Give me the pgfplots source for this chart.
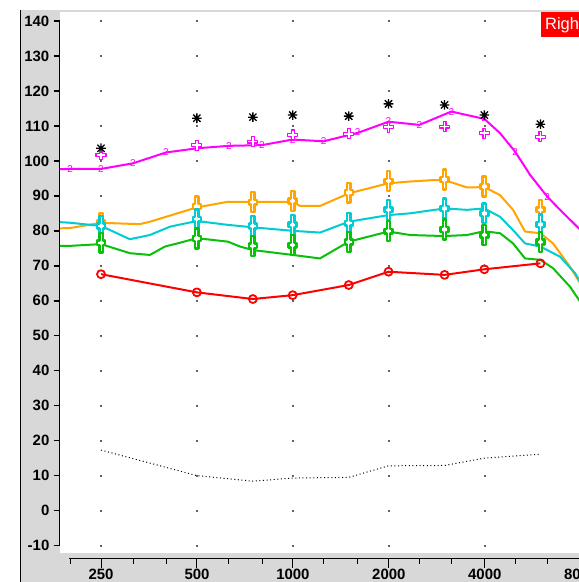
\documentclass[border=0pt]{standalone}
\usepackage{fontspec}
\setmainfont{Liberation Sans}
\usepackage{pgfplots}
\pgfplotsset{compat=1.18}
\definecolor{corange}{RGB}{255,165,0}
\definecolor{ccyan}{RGB}{0,204,210}
\definecolor{cgreen}{RGB}{10,192,10}
\definecolor{cmag}{RGB}{255,0,255}
\definecolor{cred}{RGB}{255,0,0}
\definecolor{panel}{RGB}{216,216,216}
\newcommand\plusshape[4]{% half-width arm, half-length vertical, half-length horizontal, half-height crossbar
  \pgfpathmoveto{\pgfqpoint{-#1}{#2}}%
  \pgfpathlineto{\pgfqpoint{#1}{#2}}%
  \pgfpathlineto{\pgfqpoint{#1}{#4}}%
  \pgfpathlineto{\pgfqpoint{#3}{#4}}%
  \pgfpathlineto{\pgfqpoint{#3}{-#4}}%
  \pgfpathlineto{\pgfqpoint{#1}{-#4}}%
  \pgfpathlineto{\pgfqpoint{#1}{-#2}}%
  \pgfpathlineto{\pgfqpoint{-#1}{-#2}}%
  \pgfpathlineto{\pgfqpoint{-#1}{-#4}}%
  \pgfpathlineto{\pgfqpoint{-#3}{-#4}}%
  \pgfpathlineto{\pgfqpoint{-#3}{#4}}%
  \pgfpathlineto{\pgfqpoint{-#1}{#4}}%
  \pgfpathclose}
\pgfdeclareplotmark{tplus}{\plusshape{1.7bp}{9.9bp}{4bp}{2.4bp}\pgfusepathqfillstroke}
\pgfdeclareplotmark{oplus}{\plusshape{1.4bp}{5bp}{5bp}{1.4bp}\pgfusepathqfillstroke}
\pgfdeclareplotmark{star8}{%
  \pgfpathmoveto{\pgfqpoint{0bp}{-4.8bp}}\pgfpathlineto{\pgfqpoint{0bp}{4.8bp}}%
  \pgfpathmoveto{\pgfqpoint{-4.8bp}{0bp}}\pgfpathlineto{\pgfqpoint{4.8bp}{0bp}}%
  \pgfpathmoveto{\pgfqpoint{-3.6bp}{-3.6bp}}\pgfpathlineto{\pgfqpoint{3.6bp}{3.6bp}}%
  \pgfpathmoveto{\pgfqpoint{-3.6bp}{3.6bp}}\pgfpathlineto{\pgfqpoint{3.6bp}{-3.6bp}}%
  \pgfusepathqstroke}

\pgfplotstableread{
x y
185.2 97.6
200 97.7
250 97.7
315 99.3
400 102.4
500 103.6
630 104.3
800 104.5
1000 106.1
1250 105.6
1600 108.0
2000 111.2
2500 110.3
3150 114.1
4000 112.0
4482 107.9
5000 102.6
5567 96.0
6300 89.8
6915 86.0
8000 80.3
}\magline
\pgfplotstableread{
x y
200 97.7
250 97.7
315 99.3
400 102.4
500 103.6
630 104.3
800 104.5
1000 106.1
1250 105.7
1600 108.3
2000 111.5
2500 110.3
3150 114.1
4000 112.2
5000 102.6
6300 89.8
}\magtwos
\pgfplotstableread{
x y
185.2 80.7
200 80.8
250 82.3
331 81.9
356 82.6
500 86.7
626 88.3
750 88.3
1000 88.3
1055 87.1
1218 87.1
1500 90.7
2000 93.6
2337 94.1
2759 94.5
3000 94.5
3529 92.4
4000 92.5
4482 90.2
4922 86.0
5367 79.8
6000 79.3
6574 76.4
7435 69.7
8000 65.0
}\orangeline
\pgfplotstableread{
x y
185.2 82.5
200 82.3
250 81.4
308 77.6
356 78.8
412 81.2
500 82.8
626 81.7
750 81.0
1000 80.0
1218 79.5
1500 82.6
2000 84.5
2337 85.0
3000 86.4
3529 86.0
4000 86.4
4482 84.0
4922 80.2
5367 76.4
6000 75.5
6915 72.6
7707 67.9
8000 65.4
}\cyanline
\pgfplotstableread{
x y
185.2 75.7
200 75.7
250 76.2
308 73.6
356 73.1
397 75.5
443 76.6
500 77.9
626 76.9
683 75.5
750 74.5
1000 73.1
1218 72.1
1500 76.9
2000 79.8
2337 78.8
3000 78.5
3529 78.8
4000 79.9
4482 79.3
4922 76.4
5367 72.1
6000 71.7
6574 69.3
7435 64.0
8000 59.7
}\greenline
\pgfplotstableread{
x orange cyan green red magplus star dotted
250 82.3 81.4 76.6 67.6 101.7 103.6 17.3
500 87.0 83.3 77.8 62.4 104.5 112.2 10.0
750 88.2 81.4 75.7 60.5 105.5 112.5 8.4
1000 88.5 81.7 75.9 61.6 107.4 113.1 9.3
1500 90.9 82.2 76.8 64.5 107.7 112.8 9.5
2000 94.2 86.0 79.9 68.3 109.6 116.3 12.8
3000 94.7 86.4 80.4 67.4 109.8 116.0 12.9
4000 92.7 85.0 78.8 69.0 107.9 113.1 15.0
6000 86.0 81.8 76.8 70.7 106.9 110.5 16.1
}\points

\begin{document}
\begin{tikzpicture}
\useasboundingbox (0,0) rectangle (579bp,582bp);
\clip (0,0) rectangle (579bp,582bp);
\fill[white] (0,0) rectangle (579bp,582bp);
\fill[panel] (20bp,0) rectangle (59.5bp,572bp);
\fill[panel] (20bp,0) rectangle (579bp,29bp);
\fill[panel] (59.5bp,570bp) rectangle (579bp,572bp);
\draw[black, line width=1bp] (20bp,0) -- (20bp,572bp);

\begin{axis}[
  at={(59.5bp,29bp)}, anchor=south west,
  scale only axis, width=519.5bp, height=542bp,
  xmode=log, xmin=185.2, xmax=7933, ymin=-12.13, ymax=142.86,
  axis line style={draw=none},
  xtick=\empty,
  ytick={-10,0,10,20,30,40,50,60,70,80,90,100,110,120,130,140},
  yticklabels={-10,0,10,20,30,40,50,60,70,80,90,100,110,120,130,140},
  ytick pos=left, tick align=outside, major tick length=6bp,
  tick style={black, line width=1.5bp},
  yticklabel style={font=\bfseries\fontsize{15}{15}\selectfont, anchor=east, inner sep=0pt, xshift=-4bp},
  clip=true,
  line join=round,
]
\pgfplotsinvokeforeach{250,500,1000,2000,4000}{
  \addplot[only marks, mark=square*, mark size=0.45bp, black!65, forget plot]
    coordinates {(#1,-10)(#1,0)(#1,10)(#1,20)(#1,30)(#1,40)(#1,50)(#1,60)(#1,70)(#1,80)(#1,90)(#1,100)(#1,110)(#1,120)(#1,130)(#1,140)};
}
\addplot[black, line width=1bp, dash pattern=on 1bp off 2.6bp] table[x=x, y=dotted] {\points};
\addplot[cmag, line width=2bp] table {\magline};
\addplot[only marks, mark=text, text mark={2}, text mark as node=true,
  text mark style={font=\fontsize{10}{10}\selectfont, text=cmag}] table {\magtwos};
\addplot[corange, line width=2bp] table {\orangeline};
\addplot[ccyan, line width=2bp] table {\cyanline};
\addplot[cgreen, line width=2bp] table {\greenline};
\addplot[cred, line width=2bp, mark=o, mark size=4bp, mark options={line width=1.8bp}] table[x=x, y=red] {\points};
\addplot[only marks, corange, mark=tplus, mark options={fill=white, line width=2.4bp}] table[x=x, y=orange] {\points};
\addplot[only marks, ccyan, mark=tplus, mark options={fill=white, line width=2.4bp}] table[x=x, y=cyan] {\points};
\addplot[only marks, cgreen, mark=tplus, mark options={fill=white, line width=2.4bp}] table[x=x, y=green] {\points};
\addplot[only marks, cmag, mark=oplus, mark options={fill=white, line width=1.1bp}] table[x=x, y=magplus] {\points};
\addplot[only marks, black, mark=star8, mark options={line width=1.3bp}] table[x=x, y=star] {\points};
\end{axis}

\begin{axis}[
  at={(59.5bp,23bp)}, anchor=south west,
  scale only axis, width=522.9bp, height=2bp,
  xmode=log, xmin=185.2, xmax=8100, ymin=0, ymax=1,
  axis line style={draw=none}, ytick=\empty,
  xtick={250,500,1000,2000,4000,8000},
  xticklabels={250,500,1000,2000,4000,8000},
  minor xtick={200,315,400,630,800,1250,1600,2500,3150,5000,6300},
  xtick pos=bottom, tick align=outside,
  major tick length=8.5bp, minor tick length=4.5bp,
  tick style={black, line width=1bp},
  xticklabel style={font=\bfseries\fontsize{15}{15}\selectfont, anchor=north, inner sep=0pt, yshift=-1.5bp},
]
\end{axis}

\draw[black, line width=1bp] (69bp,23bp) -- (579bp,23bp);
\draw[black, line width=1.5bp] (59.5bp,35.7bp) -- (59.5bp,561.7bp);

\fill[cred] (541bp,545.3bp) rectangle (590bp,570.3bp);
\node[anchor=base west, inner sep=0pt, text=white, font=\fontsize{16.5}{16.5}\selectfont] at (545bp,552bp) {Right};
\end{tikzpicture}
\end{document}
